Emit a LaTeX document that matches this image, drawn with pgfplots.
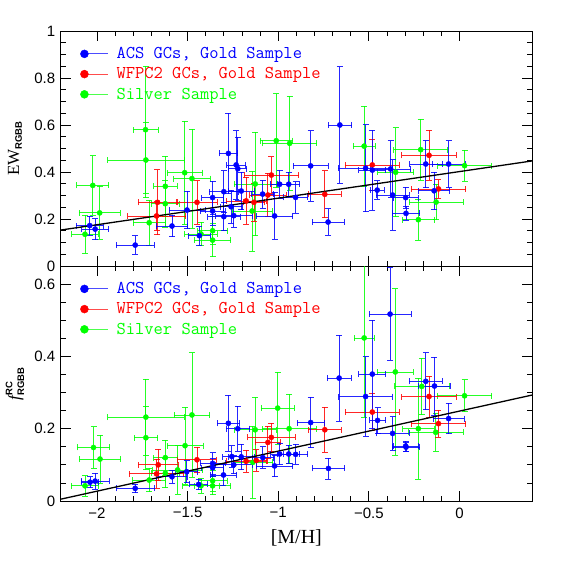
\documentclass[border=0pt]{standalone}
\usepackage{fontspec}
\setmainfont{Liberation Serif}
\newfontfamily\ticksf{Liberation Sans}
\usepackage{xcolor}
\usepackage{pgfplots}
\usepackage{pgfplotstable}
\pgfplotsset{compat=1.18}

\definecolor{cacs}{rgb}{0,0,1}
\definecolor{cwf}{rgb}{1,0,0}
\definecolor{csil}{rgb}{0,1,0}

% top panel: EW_RGBB
\pgfplotstableread{
x y ex ey
-2.040 0.172 0.074 0.040
-2.010 0.157 0.074 0.045
-1.789 0.089 0.105 0.040
-1.586 0.170 0.087 0.045
-1.503 0.238 0.100 0.080
-1.435 0.129 0.060 0.040
-1.362 0.291 0.060 0.070
-1.362 0.234 0.070 0.060
-1.300 0.316 0.080 0.090
-1.300 0.210 0.090 0.060
-1.275 0.479 0.052 0.170
-1.260 0.252 0.060 0.070
-1.245 0.214 0.100 0.050
-1.232 0.430 0.053 0.145
-1.223 0.414 0.050 0.135
-1.204 0.319 0.070 0.080
-1.086 0.306 0.060 0.060
-1.020 0.213 0.100 0.100
-0.992 0.348 0.050 0.060
-0.942 0.348 0.060 0.050
-0.904 0.292 0.067 0.067
-0.821 0.426 0.098 0.150
-0.725 0.187 0.089 0.057
-0.660 0.600 0.065 0.248
-0.518 0.416 0.150 0.185
-0.481 0.408 0.074 0.170
-0.454 0.323 0.040 0.040
-0.380 0.413 0.110 0.120
-0.369 0.302 0.090 0.150
-0.297 0.291 0.070 0.045
-0.295 0.224 0.075 0.030
-0.186 0.434 0.089 0.100
-0.140 0.320 0.087 0.080
-0.060 0.434 0.090 0.100
}\topacs

\pgfplotstableread{
x y ex ey
-1.671 0.213 0.160 0.060
-1.666 0.271 0.105 0.138
-1.448 0.271 0.110 0.092
-1.177 0.277 0.110 0.100
-1.134 0.271 0.060 0.080
-1.057 0.302 0.100 0.092
-1.038 0.387 0.150 0.078
-0.743 0.305 0.092 0.100
-0.481 0.430 0.148 0.108
-0.168 0.471 0.150 0.107
-0.116 0.328 0.150 0.040
}\topwf

\pgfplotstableread{
x y ex ey
-2.066 0.135 0.074 0.080
-2.023 0.343 0.088 0.126
-1.985 0.226 0.113 0.113
-1.732 0.580 0.069 0.270
-1.730 0.451 0.210 0.160
-1.712 0.184 0.088 0.095
-1.623 0.339 0.065 0.128
-1.623 0.265 0.077 0.100
-1.516 0.397 0.097 0.220
-1.476 0.372 0.100 0.210
-1.426 0.136 0.090 0.050
-1.362 0.150 0.083 0.060
-1.362 0.110 0.100 0.070
-1.144 0.234 0.110 0.170
-1.127 0.349 0.115 0.220
-1.011 0.533 0.090 0.200
-0.937 0.522 0.150 0.200
-0.526 0.510 0.060 0.170
-0.352 0.399 0.100 0.190
-0.227 0.197 0.090 0.087
-0.214 0.495 0.150 0.130
-0.129 0.272 0.150 0.075
0.028 0.427 0.148 0.067
}\topsil

% bottom panel: f^RC_RGBB
\pgfplotstableread{
x y ex ey
-2.038 0.052 0.048 0.015
-2.010 0.055 0.078 0.022
-1.789 0.035 0.105 0.012
-1.586 0.067 0.085 0.018
-1.505 0.081 0.060 0.030
-1.439 0.046 0.050 0.015
-1.362 0.104 0.070 0.030
-1.362 0.092 0.060 0.025
-1.302 0.072 0.070 0.030
-1.275 0.215 0.063 0.078
-1.256 0.123 0.050 0.030
-1.245 0.100 0.100 0.025
-1.223 0.200 0.065 0.062
-1.204 0.122 0.070 0.035
-1.085 0.120 0.060 0.030
-1.020 0.097 0.100 0.030
-0.992 0.130 0.050 0.030
-0.942 0.130 0.060 0.025
-0.904 0.129 0.067 0.028
-0.821 0.217 0.075 0.070
-0.723 0.090 0.090 0.029
-0.664 0.340 0.065 0.119
-0.518 0.289 0.148 0.110
-0.481 0.351 0.074 0.149
-0.452 0.223 0.044 0.035
-0.383 0.517 0.115 0.128
-0.369 0.187 0.090 0.046
-0.297 0.152 0.070 0.014
-0.295 0.149 0.075 0.012
-0.186 0.331 0.090 0.079
-0.138 0.318 0.087 0.080
-0.060 0.228 0.086 0.042
}\botacs

\pgfplotstableread{
x y ex ey
-1.671 0.075 0.150 0.040
-1.662 0.100 0.110 0.044
-1.448 0.114 0.106 0.035
-1.177 0.110 0.110 0.030
-1.121 0.112 0.060 0.030
-1.057 0.162 0.070 0.045
-1.038 0.176 0.130 0.040
-0.743 0.197 0.090 0.062
-0.481 0.246 0.150 0.052
-0.168 0.289 0.150 0.057
-0.116 0.214 0.150 0.037
}\botwf

\pgfplotstableread{
x y ex ey
-2.066 0.042 0.076 0.028
-2.019 0.148 0.090 0.058
-1.983 0.116 0.115 0.066
-1.730 0.232 0.210 0.105
-1.730 0.175 0.065 0.088
-1.712 0.058 0.090 0.032
-1.623 0.120 0.066 0.048
-1.623 0.077 0.077 0.040
-1.555 0.086 0.138 0.067
-1.514 0.153 0.100 0.106
-1.476 0.238 0.097 0.172
-1.426 0.042 0.100 0.020
-1.362 0.042 0.100 0.025
-1.362 0.056 0.080 0.030
-1.140 0.107 0.110 0.100
-1.127 0.197 0.115 0.090
-1.003 0.257 0.090 0.100
-0.940 0.200 0.150 0.095
-0.526 0.451 0.055 0.220
-0.354 0.357 0.100 0.230
-0.227 0.200 0.087 0.140
-0.208 0.317 0.150 0.078
-0.131 0.190 0.150 0.053
0.028 0.291 0.150 0.044
}\botsil

\pgfplotsset{
  panel/.style={
    scale only axis, width=471.3pt, height=235pt,
    anchor=south west,
    xmin=-2.2, xmax=0.4,
    xtick={-2,-1.5,-1,-0.5,0},
    minor x tick num=4,
    minor y tick num=3,
    tick align=inside, tick pos=both,
    major tick length=10pt, minor tick length=5pt,
    axis line style={line width=0.9pt},
    every tick/.style={black, line width=0.8pt},
    tick label style={font=\ticksf\fontsize{15}{15}\selectfont},
    xticklabel style={yshift=-3pt},
    yticklabel style={xshift=-2pt},
    every axis y label/.style={at={(axis description cs:-0.097,0.5)}, anchor=center, rotate=90},
    every axis x label/.style={at={(axis description cs:0.5,-0.157)}, anchor=center},
    legend style={at={(axis description cs:0.041,0.937)}, anchor=north west,
      draw=none, fill=none, row sep=4.5pt, inner sep=0pt,
      font=\ttfamily\fontsize{18}{18}\selectfont,
      nodes={inner sep=1.5pt}},
    legend cell align=left,
  },
  gcpts/.style={only marks, mark=*, mark size=2.6pt, forget plot,
    color=#1, mark options={fill=#1, draw=#1},
    /pgfplots/error bars/x dir=both, /pgfplots/error bars/x explicit,
    /pgfplots/error bars/y dir=both, /pgfplots/error bars/y explicit,
    /pgfplots/error bars/error bar style={line width=0.8pt, opacity=0.85},
    /pgfplots/error bars/error mark options={rotate=90, line width=0.8pt, mark size=3pt, opacity=0.85}},
  legdot/.style={legend image code/.code={
    \draw[#1, line width=0.8pt, opacity=0.7] (0pt,0pt) -- (24pt,0pt);
    \fill[#1] (0pt,0pt) circle (4pt);
    \path (30.5pt,0pt);}},
}

\newcommand{\sub}[1]{\mbox{\ticksf\bfseries\fontsize{9.5}{9.5}\selectfont #1}}

\begin{document}
\begin{tikzpicture}
\path[use as bounding box] (0pt,0pt) rectangle (562pt,562pt);

% top panel
\begin{axis}[panel, at={(60.7pt,296pt)},
    ymin=0, ymax=1,
    ytick={0,0.2,0.4,0.6,0.8,1},
    yticklabels={0,0.2,0.4,0.6,0.8,1},
    xticklabels={},
    ylabel={\fontsize{17}{17}\selectfont EW$_{\sub{RGBB}}$},
  ]
  \addlegendimage{legdot=cacs}
  \addlegendentry{\textcolor{cacs}{ACS GCs, Gold Sample}}
  \addlegendimage{legdot=cwf}
  \addlegendentry{\textcolor{cwf}{WFPC2 GCs, Gold Sample}}
  \addlegendimage{legdot=csil}
  \addlegendentry{\textcolor{csil}{Silver Sample}}
  \addplot[gcpts=csil] table[x=x, y=y, x error=ex, y error=ey] {\topsil};
  \addplot[gcpts=cwf] table[x=x, y=y, x error=ex, y error=ey] {\topwf};
  \addplot[gcpts=cacs] table[x=x, y=y, x error=ex, y error=ey] {\topacs};
  \addplot[black, line width=1.3pt, forget plot] coordinates {(-2.2,0.153) (0.4,0.447)};
\end{axis}

% bottom panel
\begin{axis}[panel, at={(60.7pt,61pt)},
    ymin=0, ymax=0.65,
    ytick={0,0.2,0.4,0.6},
    yticklabels={0,0.2,0.4,0.6},
    xticklabels={−2,−1.5,−1,−0.5,0},
    xlabel={\fontsize{20}{20}\selectfont [M/H]},
    ylabel={\fontsize{17}{17}\selectfont $\mbox{\itshape f}^{\sub{RC}}_{\sub{RGBB}}$},
  ]
  \addlegendimage{legdot=cacs}
  \addlegendentry{\textcolor{cacs}{ACS GCs, Gold Sample}}
  \addlegendimage{legdot=cwf}
  \addlegendentry{\textcolor{cwf}{WFPC2 GCs, Gold Sample}}
  \addlegendimage{legdot=csil}
  \addlegendentry{\textcolor{csil}{Silver Sample}}
  \addplot[gcpts=csil] table[x=x, y=y, x error=ex, y error=ey] {\botsil};
  \addplot[gcpts=cwf] table[x=x, y=y, x error=ex, y error=ey] {\botwf};
  \addplot[gcpts=cacs] table[x=x, y=y, x error=ex, y error=ey] {\botacs};
  \addplot[black, line width=1.3pt, forget plot] coordinates {(-2.2,0.005) (0.4,0.293)};
\end{axis}
\end{tikzpicture}
\end{document}
